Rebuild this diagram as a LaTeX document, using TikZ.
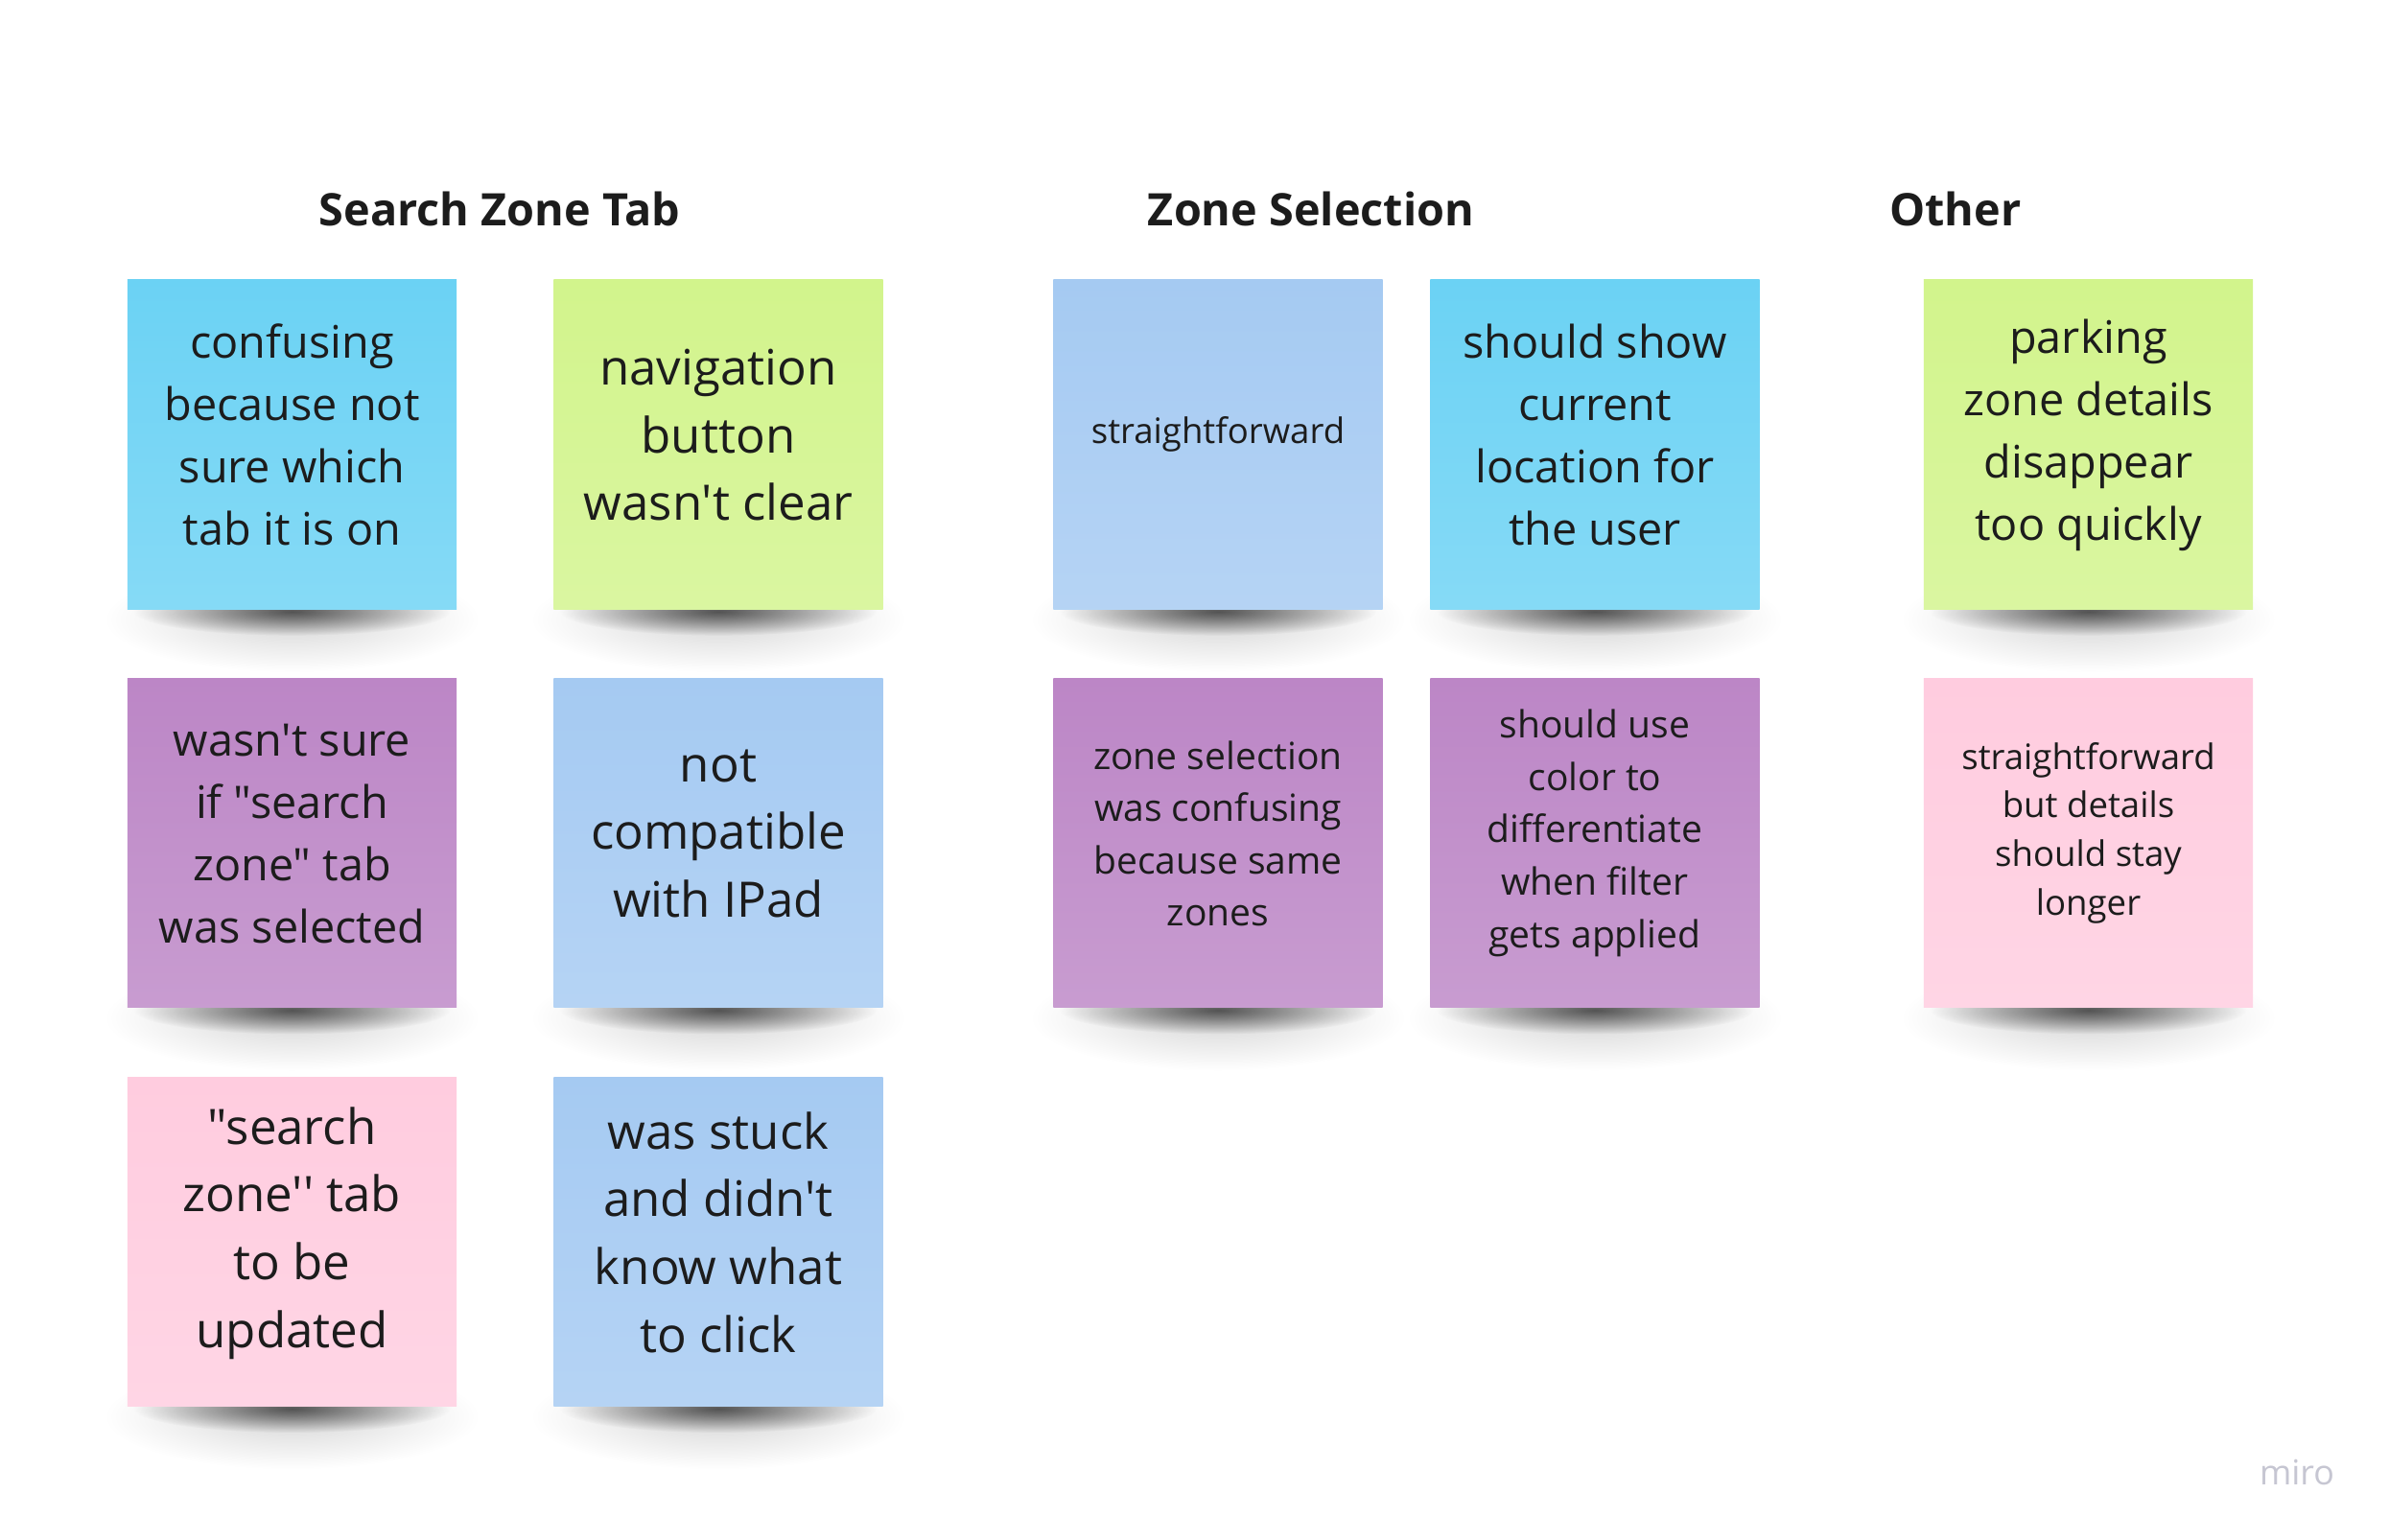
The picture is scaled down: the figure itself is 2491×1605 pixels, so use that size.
\documentclass[tikz,border=0pt]{standalone}
\usepackage{fontspec}
\setmainfont{Open Sans}[Ligatures=TeXOff]
\usepackage{tikz}
\usetikzlibrary{positioning,fadings,backgrounds}
\definecolor{ink}{HTML}{1C1C1C}
\definecolor{sky}{HTML}{6BD2F4}
\definecolor{lime}{HTML}{D2F48C}
\definecolor{plum}{HTML}{BC86C6}
\definecolor{azure}{HTML}{A5CAF2}
\definecolor{blush}{HTML}{FFCCDF}
\definecolor{logo}{HTML}{C6C6D2}
\tikzfading[name=noteshade,inner color=transparent!38,outer color=transparent!100]
\tikzfading[name=notehalo,inner color=transparent!84,outer color=transparent!100]

\begin{document}
\begin{tikzpicture}[x=0.01cm,y=-0.01cm,node distance=7.1mm,
  note/.style={rectangle,minimum width=3.43cm,minimum height=3.43cm,inner sep=0pt,align=center,text=ink,text depth=0.2cm},
  desc/.style={text depth=0.3cm},
  big/.style={font=\fontsize{14.5}{20.1}\selectfont},
  mid/.style={font=\fontsize{13.3}{18.5}\selectfont},
  small/.style={font=\fontsize{11.1}{15.5}\selectfont},
  tiny/.style={font=\fontsize{10.4}{14.4}\selectfont},
  tint/.style={top color=#1,bottom color=#1!82!white},
  head/.style={font=\bfseries\fontsize{13.3}{16}\selectfont,text=ink}]
\useasboundingbox (0,0) rectangle (2491,1605);
\begin{scope}[on background layer]
\fill[white] (0,0) rectangle (2491,1605);
\end{scope}
% column titles
\node[head] (htab) at (521,218) {Search Zone Tab};
\node[head] (hsel) at (1367,218) {Zone Selection};
\node[head,anchor=west] (hoth) at (1958,218) {Other};
% search zone tab
\node[note,mid,tint=sky] (tab1) at (304.5,463.5) {confusing\\because not\\sure which\\tab it is on};
\node[note,mid,tint=plum,below=of tab1] (tab2) {wasn't sure\\if "search\\zone" tab\\was selected};
\node[note,big,desc,tint=blush,below=of tab2] (tab3) {"search\\zone'' tab\\to be\\updated};
\node[note,big,tint=lime] (nav1) at (749,463.5) {navigation\\button\\wasn't clear};
\node[note,big,tint=azure,below=of nav1] (nav2) {not\\compatible\\with IPad};
\node[note,big,tint=azure,below=of nav2] (nav3) {was stuck\\and didn't\\know what\\to click};
% zone selection
\node[note,tiny,desc,tint=azure] (sel1) at (1270,463.5) {straightforward};
\node[note,small,tint=plum,below=of sel1] (sel2) {zone selection\\was confusing\\because same\\zones};
\node[note,mid,tint=sky] (sel3) at (1663,463.5) {should show\\current\\location for\\the user};
\node[note,small,desc,tint=plum,below=of sel3] (sel4) {should use\\color to\\differentiate\\when filter\\gets applied};
% other
\node[note,mid,desc,tint=lime] (oth1) at (2177.5,463.5) {parking\\zone details\\disappear\\too quickly};
\node[note,tiny,desc,tint=blush,below=of oth1] (oth2) {straightforward\\but details\\should stay\\longer};
\begin{scope}[on background layer]
\foreach \n in {tab1,tab2,tab3,nav1,nav2,nav3,sel1,sel2,sel3,sel4,oth1,oth2}{
  \fill[black,path fading=notehalo] ([yshift=-0.1cm]\n.south) ellipse [x radius=1.95cm,y radius=0.55cm];
  \fill[black,path fading=noteshade] ([yshift=-0.02cm]\n.south) ellipse [x radius=1.65cm,y radius=0.25cm];
}
\end{scope}
\node[text=logo,font=\fontsize{10.2}{12}\selectfont] (miro) at (2395,1535) {miro};
\end{tikzpicture}
\end{document}
